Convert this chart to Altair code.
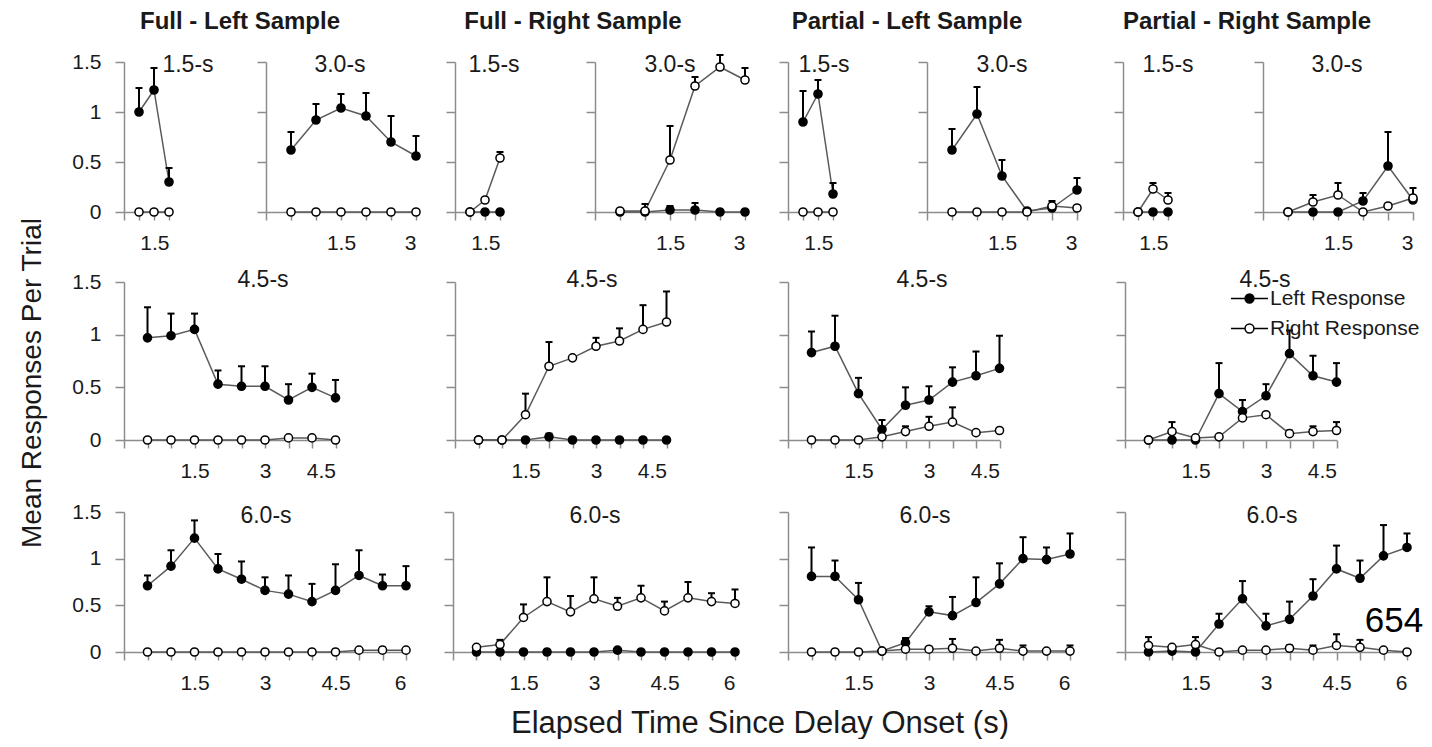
import altair as alt
import pandas as pd

FONT = "Liberation Sans"
TXT = "#1a1a1a"
AXC = "#8c8c8c"
LINEC = "#5a5a5a"
OFF = 8            # page margin -> view origin
W, H = 1410, 724

# ---------------- time grids and tick values ----------------
t15 = [0.5, 1.0, 1.5]
t30 = [0.5, 1.0, 1.5, 2.0, 2.5, 3.0]
t45 = [0.5, 1.0, 1.5, 2.0, 2.5, 3.0, 3.5, 4.0, 4.5]
t60 = [0.5, 1.0, 1.5, 2.0, 2.5, 3.0, 3.5, 4.0, 4.5, 5.0, 5.5, 6.0]
ticks15 = [0, 0.5, 1.0, 1.5]
ticks30 = [0, 0.5, 1.0, 1.5, 2.0, 2.5, 3.0]
ticks45 = [0, 0.5, 1.0, 1.5, 2.0, 2.5, 3.0, 3.5, 4.0, 4.5]
ticks60 = [0, 0.5, 1.0, 1.5, 2.0, 2.5, 3.0, 3.5, 4.0, 4.5, 5.0, 5.5, 6.0]
yticks = [0, 0.5, 1.0, 1.5]
resp_names = ["Left Response", "Right Response"]

# ---------------- Full - Left Sample ----------------
fl15_left = [1.00, 1.22, 0.30]
fl15_left_top = [1.24, 1.44, 0.44]
fl15_right = [0.0, 0.0, 0.0]
fl15_right_top = [0.0, 0.0, 0.0]

fl30_left = [0.62, 0.92, 1.04, 0.96, 0.70, 0.56]
fl30_left_top = [0.80, 1.08, 1.18, 1.19, 0.96, 0.76]
fl30_right = [0.0, 0.0, 0.0, 0.0, 0.0, 0.0]
fl30_right_top = [0.0, 0.0, 0.0, 0.0, 0.0, 0.0]

fl45_left = [0.97, 0.99, 1.05, 0.53, 0.51, 0.51, 0.38, 0.50, 0.40]
fl45_left_top = [1.26, 1.20, 1.20, 0.66, 0.70, 0.70, 0.53, 0.63, 0.57]
fl45_right = [0.0, 0.0, 0.0, 0.0, 0.0, 0.0, 0.02, 0.02, 0.0]
fl45_right_top = [0.0, 0.0, 0.0, 0.0, 0.0, 0.0, 0.03, 0.03, 0.0]

fl60_left = [0.71, 0.92, 1.22, 0.89, 0.78, 0.66, 0.62, 0.54, 0.66, 0.82, 0.71, 0.71]
fl60_left_top = [0.82, 1.09, 1.41, 1.05, 0.97, 0.80, 0.82, 0.73, 0.94, 1.09, 0.83, 0.92]
fl60_right = [0.0, 0.0, 0.0, 0.0, 0.0, 0.0, 0.0, 0.0, 0.0, 0.02, 0.02, 0.02]
fl60_right_top = [0.0, 0.0, 0.0, 0.0, 0.0, 0.0, 0.0, 0.0, 0.0, 0.02, 0.05, 0.02]

# ---------------- Full - Right Sample ----------------
fr15_left = [0.0, 0.0, 0.0]
fr15_left_top = [0.0, 0.0, 0.0]
fr15_right = [0.0, 0.12, 0.54]
fr15_right_top = [0.0, 0.14, 0.60]

fr30_left = [0.0, 0.0, 0.02, 0.02, 0.0, 0.0]
fr30_left_top = [0.0, 0.0, 0.06, 0.09, 0.0, 0.0]
fr30_right = [0.01, 0.01, 0.52, 1.26, 1.45, 1.32]
fr30_right_top = [0.01, 0.08, 0.86, 1.35, 1.57, 1.44]

fr45_left = [0.0, 0.0, 0.0, 0.03, 0.0, 0.0, 0.0, 0.0, 0.0]
fr45_left_top = [0.0, 0.0, 0.0, 0.06, 0.0, 0.0, 0.0, 0.0, 0.0]
fr45_right = [0.0, 0.0, 0.24, 0.70, 0.78, 0.89, 0.94, 1.05, 1.12]
fr45_right_top = [0.0, 0.0, 0.44, 0.93, 0.78, 0.97, 1.06, 1.28, 1.41]

fr60_left = [0.0, 0.0, 0.0, 0.0, 0.0, 0.0, 0.02, 0.0, 0.0, 0.0, 0.0, 0.0]
fr60_left_top = [0.0, 0.0, 0.0, 0.0, 0.0, 0.0, 0.03, 0.0, 0.0, 0.0, 0.0, 0.0]
fr60_right = [0.05, 0.08, 0.37, 0.54, 0.43, 0.57, 0.49, 0.58, 0.44, 0.58, 0.54, 0.52]
fr60_right_top = [0.07, 0.13, 0.51, 0.80, 0.60, 0.80, 0.58, 0.71, 0.54, 0.75, 0.63, 0.67]

# ---------------- Partial - Left Sample ----------------
pl15_left = [0.90, 1.18, 0.18]
pl15_left_top = [1.21, 1.32, 0.29]
pl15_right = [0.0, 0.0, 0.0]
pl15_right_top = [0.0, 0.0, 0.0]

pl30_left = [0.62, 0.98, 0.36, 0.01, 0.04, 0.22]
pl30_left_top = [0.83, 1.25, 0.52, 0.01, 0.04, 0.34]
pl30_right = [0.0, 0.0, 0.0, 0.0, 0.06, 0.04]
pl30_right_top = [0.0, 0.0, 0.0, 0.0, 0.11, 0.04]

pl45_left = [0.83, 0.89, 0.44, 0.10, 0.33, 0.38, 0.55, 0.61, 0.68]
pl45_left_top = [1.03, 1.18, 0.59, 0.19, 0.50, 0.51, 0.69, 0.84, 0.99]
pl45_right = [0.0, 0.0, 0.0, 0.03, 0.08, 0.13, 0.17, 0.07, 0.09]
pl45_right_top = [0.0, 0.0, 0.0, 0.03, 0.13, 0.22, 0.31, 0.07, 0.10]

pl60_left = [0.81, 0.81, 0.56, 0.01, 0.10, 0.43, 0.39, 0.53, 0.73, 1.00, 0.99, 1.05]
pl60_left_top = [1.12, 0.98, 0.74, 0.01, 0.15, 0.49, 0.59, 0.80, 0.95, 1.23, 1.12, 1.27]
pl60_right = [0.0, 0.0, 0.0, 0.01, 0.03, 0.03, 0.04, 0.01, 0.04, 0.01, 0.01, 0.01]
pl60_right_top = [0.0, 0.0, 0.0, 0.01, 0.03, 0.05, 0.14, 0.01, 0.13, 0.07, 0.01, 0.07]

# ---------------- Partial - Right Sample ----------------
pr15_left = [0.0, 0.0, 0.0]
pr15_left_top = [0.0, 0.0, 0.0]
pr15_right = [0.0, 0.23, 0.12]
pr15_right_top = [0.0, 0.29, 0.19]

pr30_left = [0.0, 0.0, 0.0, 0.11, 0.46, 0.12]
pr30_left_top = [0.0, 0.0, 0.0, 0.19, 0.80, 0.12]
pr30_right = [0.0, 0.10, 0.17, 0.0, 0.06, 0.14]
pr30_right_top = [0.0, 0.17, 0.29, 0.0, 0.06, 0.24]

pr45_left = [0.0, 0.0, 0.0, 0.44, 0.27, 0.42, 0.82, 0.61, 0.55]
pr45_left_top = [0.0, 0.0, 0.0, 0.73, 0.38, 0.53, 1.04, 0.80, 0.73]
pr45_right = [0.0, 0.08, 0.02, 0.03, 0.21, 0.24, 0.06, 0.08, 0.09]
pr45_right_top = [0.0, 0.17, 0.02, 0.03, 0.29, 0.24, 0.09, 0.13, 0.17]

pr60_left = [0.0, 0.01, 0.0, 0.30, 0.57, 0.28, 0.35, 0.60, 0.89, 0.79, 1.03, 1.12]
pr60_left_top = [0.0, 0.01, 0.0, 0.41, 0.76, 0.41, 0.54, 0.78, 1.14, 0.98, 1.36, 1.27]
pr60_right = [0.07, 0.05, 0.08, 0.0, 0.02, 0.02, 0.04, 0.02, 0.07, 0.05, 0.02, 0.0]
pr60_right_top = [0.16, 0.05, 0.16, 0.0, 0.02, 0.02, 0.07, 0.07, 0.19, 0.13, 0.02, 0.0]

# ---------------- text ----------------
group_titles = ["Full - Left Sample", "Full - Right Sample",
                "Partial - Left Sample", "Partial - Right Sample"]
y_title = "Mean Responses Per Trial"
x_title = "Elapsed Time Since Delay Onset (s)"
corner_label = "654"

# ---------------- layout (page pixels) ----------------
layout = [
    ((fl15_left, fl15_left_top, fl15_right, fl15_right_top), t15, ticks15, 124, 30, 212, 62, True, "1.5-s", 188, 72),
    ((fl30_left, fl30_left_top, fl30_right, fl30_right_top), t30, ticks30, 266, 50, 212, 62, False, "3.0-s", 340, 72),
    ((fr15_left, fr15_left_top, fr15_right, fr15_right_top), t15, ticks15, 455, 30, 212, 62, False, "1.5-s", 494, 72),
    ((fr30_left, fr30_left_top, fr30_right, fr30_right_top), t30, ticks30, 595, 50, 212, 62, False, "3.0-s", 670, 72),
    ((pl15_left, pl15_left_top, pl15_right, pl15_right_top), t15, ticks15, 788, 30, 212, 62, False, "1.5-s", 824, 72),
    ((pl30_left, pl30_left_top, pl30_right, pl30_right_top), t30, ticks30, 927, 50, 212, 62, False, "3.0-s", 1002, 72),
    ((pr15_left, pr15_left_top, pr15_right, pr15_right_top), t15, ticks15, 1123, 30, 212, 62, False, "1.5-s", 1168, 72),
    ((pr30_left, pr30_left_top, pr30_right, pr30_right_top), t30, ticks30, 1263, 50, 212, 62, False, "3.0-s", 1337, 72),
    ((fl45_left, fl45_left_top, fl45_right, fl45_right_top), t45, ticks45, 124, 47, 440, 282, True, "4.5-s", 263, 287),
    ((fr45_left, fr45_left_top, fr45_right, fr45_right_top), t45, ticks45, 455, 47, 440, 282, False, "4.5-s", 592, 287),
    ((pl45_left, pl45_left_top, pl45_right, pl45_right_top), t45, ticks45, 788, 47, 440, 282, False, "4.5-s", 922, 287),
    ((pr45_left, pr45_left_top, pr45_right, pr45_right_top), t45, ticks45, 1125, 47, 440, 282, False, "4.5-s", 1265, 287),
    ((fl60_left, fl60_left_top, fl60_right, fl60_right_top), t60, ticks60, 124, 47, 652, 512, True, "6.0-s", 266, 523),
    ((fr60_left, fr60_left_top, fr60_right, fr60_right_top), t60, ticks60, 453, 47, 652, 512, False, "6.0-s", 595, 523),
    ((pl60_left, pl60_left_top, pl60_right, pl60_right_top), t60, ticks60, 788, 47, 652, 512, False, "6.0-s", 925, 523),
    ((pr60_left, pr60_left_top, pr60_right, pr60_right_top), t60, ticks60, 1125, 47, 652, 512, False, "6.0-s", 1272, 523),
]

LEG_PATH = ("M-1,0L-0.24,0M0.24,0A0.24,0.24,0,1,1,-0.24,0"
            "A0.24,0.24,0,1,1,0.24,0M0.24,0L1,0")

fill_scale = alt.Scale(domain=resp_names, range=["#000000", "#ffffff"])
legend = alt.Legend(orient="none", legendX=1230 - OFF, legendY=279 - OFF, title=None,
                    symbolType=LEG_PATH, symbolSize=1369, symbolStrokeColor="#000000",
                    symbolStrokeWidth=1.5, labelFont=FONT, labelFontSize=21,
                    labelColor=TXT, labelOffset=1, rowPadding=-6, padding=0)


def make_panel(series, times, ticks, x0, ppu, ybot, ytop, ylab):
    left, ltop, right, rtop = series
    rows = []
    for t, v, tp in zip(times, left, ltop):
        rows.append({"t": t, "v": v, "top": tp, "resp": resp_names[0]})
    for t, v, tp in zip(times, right, rtop):
        rows.append({"t": t, "v": v, "top": tp, "resp": resp_names[1]})
    df = pd.DataFrame(rows)
    dmax = times[-1]

    def xs():
        return alt.Scale(domain=[0, dmax], range=[x0 - OFF, x0 - OFF + ppu * dmax],
                         nice=False, zero=False)

    def ys():
        return alt.Scale(domain=[0, 1.5], range=[ybot - OFF, ytop - OFF],
                         nice=False, zero=False)

    xax = alt.Axis(orient="bottom", offset=(ybot - OFF) - H, values=ticks, grid=False,
                   title=None, domainColor=AXC, domainWidth=1.5, tickColor=AXC,
                   tickWidth=1.5, tickSize=8, labelFont=FONT, labelFontSize=21,
                   labelColor=TXT, labelPadding=12, format="~g",
                   labelExpr="(datum.value > 0 && datum.value % 1.5 == 0) ? datum.label : ''")
    yax = alt.Axis(orient="left", offset=-(x0 - OFF), values=yticks, grid=False, title=None,
                   domainColor=AXC, domainWidth=1.5, tickColor=AXC, tickWidth=1.5,
                   tickSize=9, labels=ylab, labelFont=FONT, labelFontSize=21,
                   labelColor=TXT, labelPadding=14, format="~g")
    base = alt.Chart(df)
    line = base.mark_line(color=LINEC, strokeWidth=1.5).encode(
        x=alt.X("t:Q", scale=xs(), axis=xax),
        y=alt.Y("v:Q", scale=ys(), axis=yax),
        detail="resp:N",
    )
    err = base.transform_filter("datum.top > datum.v")
    stem = err.mark_rule(color="#000000", strokeWidth=2).encode(
        x=alt.X("t:Q", scale=xs(), axis=None),
        y=alt.Y("v:Q", scale=ys(), axis=None),
        y2="top:Q",
    )
    cap = err.mark_tick(orient="horizontal", color="#000000", size=7, thickness=2,
                        opacity=1).encode(
        x=alt.X("t:Q", scale=xs(), axis=None),
        y=alt.Y("top:Q", scale=ys(), axis=None),
    )
    pts = base.mark_circle(stroke="#000000", strokeWidth=1.5, size=66, opacity=1).encode(
        x=alt.X("t:Q", scale=xs(), axis=None),
        y=alt.Y("v:Q", scale=ys(), axis=None),
        fill=alt.Fill("resp:N", scale=fill_scale, legend=legend),
    )
    return [line, stem, cap, pts]


layers = []
for (s, t, tk, x0, ppu, yb, yt, yl, _, _, _) in layout:
    layers.extend(make_panel(s, t, tk, x0, ppu, yb, yt, yl))

ptitle_df = pd.DataFrame({
    "txt": [row[8] for row in layout],
    "px": [row[9] - OFF for row in layout],
    "py": [row[10] - OFF for row in layout],
})
ptitles = alt.Chart(ptitle_df).mark_text(font=FONT, fontSize=23, color=TXT,
                                          align="center", baseline="alphabetic").encode(
    x=alt.X("px:Q", scale=None, axis=None),
    y=alt.Y("py:Q", scale=None, axis=None),
    text="txt:N",
)

gtitle_df = pd.DataFrame({
    "txt": group_titles,
    "px": [240 - OFF, 573 - OFF, 907 - OFF, 1247 - OFF],
    "py": [29 - OFF] * 4,
})
gtitles = alt.Chart(gtitle_df).mark_text(font=FONT, fontSize=24, fontWeight="bold",
                                          color=TXT, align="center",
                                          baseline="alphabetic").encode(
    x=alt.X("px:Q", scale=None, axis=None),
    y=alt.Y("py:Q", scale=None, axis=None),
    text="txt:N",
)

ytitle = alt.Chart(pd.DataFrame({"txt": [y_title]})).mark_text(
    font=FONT, fontSize=28, color=TXT, angle=270, align="center", baseline="middle"
).encode(x=alt.value(33 - OFF), y=alt.value(383 - OFF), text="txt:N")

xtitle = alt.Chart(pd.DataFrame({"txt": [x_title]})).mark_text(
    font=FONT, fontSize=31, color=TXT, align="center", baseline="alphabetic"
).encode(x=alt.value(760 - OFF), y=alt.value(733 - OFF), text="txt:N")

corner = alt.Chart(pd.DataFrame({"txt": [corner_label]})).mark_text(
    font=FONT, fontSize=35, color="#000000", align="center", baseline="alphabetic"
).encode(x=alt.value(1394 - OFF), y=alt.value(632 - OFF), text="txt:N")

chart = alt.layer(*layers, ptitles, gtitles, ytitle, xtitle, corner).resolve_scale(
    x="independent", y="independent"
).properties(
    width=W, height=H, padding=0
).configure_view(strokeWidth=0)

chart.save("out.html", embed_options={"renderer": "svg", "actions": False})
